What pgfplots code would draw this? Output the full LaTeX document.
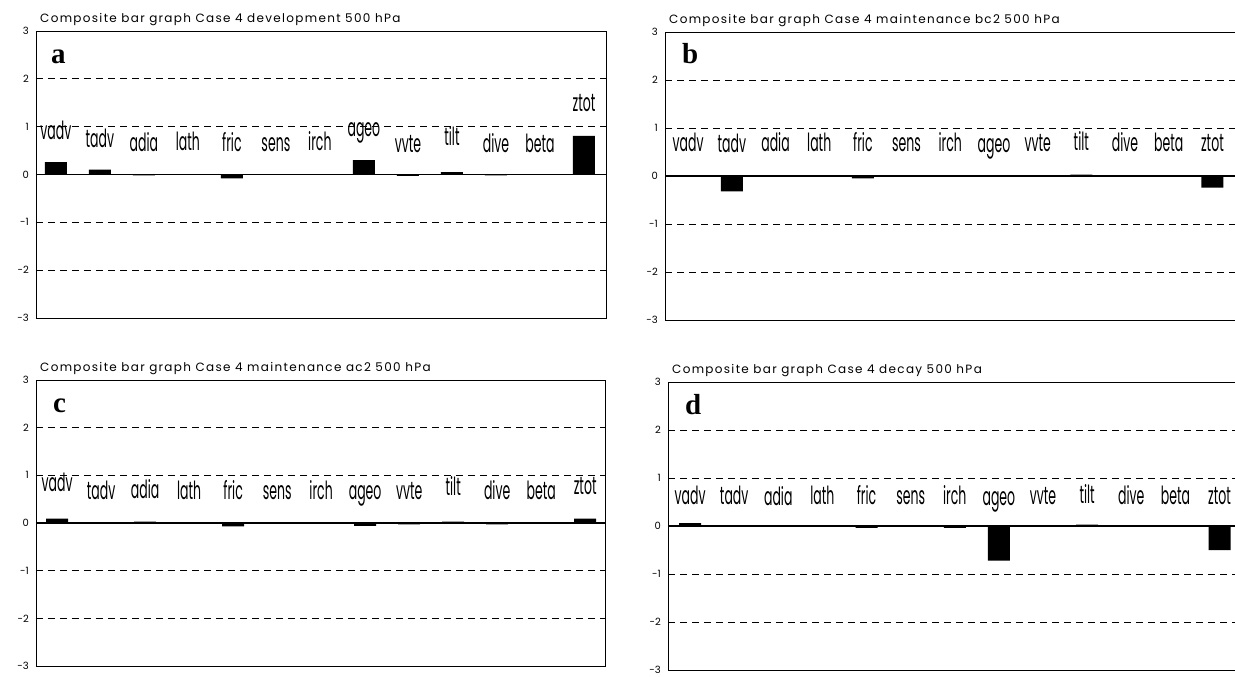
\documentclass[border=0pt]{standalone}
\usepackage{fontspec}
\usepackage{pgfplots}
\pgfplotsset{compat=1.18}
\setmainfont{Poppins}
\newfontfamily\condfont[FakeStretch=0.5]{Poppins}
\newfontfamily\condfontd[FakeStretch=0.55]{Poppins}
\newfontfamily\titlefont[LetterSpace=11]{Poppins}
\newfontfamily\serifb{Liberation Serif}

\pgfplotsset{
  panel/.style={
    scale only axis, anchor=north west,
    ybar, bar width=22pt, ymin=-3, ymax=3,
    axis line style={black, line width=0.8pt},
    xtick=\empty,
    ytick={-3,-2,-1,1,2,3}, yticklabels={-3,-2,-1,1,2,3},
    ymajorgrids,
    major grid style={black, line width=0.8pt, dash pattern=on 7pt off 5pt},
    extra y ticks={0}, extra y tick labels={0},
    extra y tick style={grid=major, major grid style={solid, black, line width=1.1pt}},
    major tick length=0pt,
    yticklabel style={font=\fontsize{10}{10}\selectfont, inner sep=0pt, xshift=-7pt},
    clip=false,
  },
}
\tikzset{lab/.style={anchor=base, inner sep=0pt, font=\fontsize{25}{25}\selectfont\condfont}}
\newcommand\clab[3]{\node[lab] at (axis cs:#1,#2) {#3};}
\newcommand\ttl[1]{\node[anchor=base west, inner sep=0pt, font=\fontsize{12}{14}\selectfont\titlefont] at (rel axis cs:0,1) [xshift=4pt, yshift=8.5pt] {#1};}
\newcommand\plet[2]{\node[anchor=base west, inner sep=0pt, font=\fontsize{29}{29}\selectfont\serifb\bfseries] at (rel axis cs:0,1) [xshift=#2, yshift=-32pt] {#1};}

\begin{document}
\begin{tikzpicture}
\useasboundingbox (0pt,0pt) rectangle (1235pt,-677pt);
\clip (0pt,0pt) rectangle (1235pt,-677pt);

% ---------- a ----------
\begin{axis}[panel, at={(36pt,-31pt)}, width=570pt, height=287pt, xmin=-0.45, xmax=12.5]
\addplot[fill=black, draw=none] coordinates {(0,0.26) (1,0.10) (2,-0.02) (3,0.01) (4,-0.08) (5,0.01) (6,0.01) (7,0.30) (8,-0.03) (9,0.05) (10,-0.02) (11,0.01) (12,0.81)};
\ttl{Composite bar graph Case 4 development 500 hPa}
\plet{a}{15pt}
\clab{0}{0.74}{vadv}\clab{1}{0.56}{tadv}\clab{2}{0.48}{adia}\clab{3}{0.50}{lath}
\clab{4}{0.49}{fric}\clab{5}{0.49}{sens}\clab{6}{0.50}{irch}\clab{7}{0.80}{ageo}
\clab{8}{0.47}{vvte}\clab{9}{0.60}{tilt}\clab{10}{0.47}{dive}\clab{11}{0.47}{beta}
\clab{12}{1.32}{ztot}
\end{axis}

% ---------- b ----------
\begin{axis}[panel, at={(665pt,-32pt)}, width=578pt, height=288pt, xmin=-0.53, xmax=12.7]
\addplot[fill=black, draw=none] coordinates {(0,0.01) (1,-0.32) (2,0.01) (3,0.005) (4,-0.05) (5,0.01) (6,0.01) (7,0.01) (8,-0.02) (9,0.03) (10,-0.02) (11,0.01) (12,-0.24)};
\ttl{Composite bar graph Case 4 maintenance bc2 500 hPa}
\plet{b}{17pt}
\clab{0}{0.50}{vadv}\clab{1}{0.49}{tadv}\clab{2}{0.50}{adia}\clab{3}{0.52}{lath}
\clab{4}{0.50}{fric}\clab{5}{0.50}{sens}\clab{6}{0.50}{irch}\clab{7}{0.49}{ageo}
\clab{8}{0.52}{vvte}\clab{9}{0.54}{tilt}\clab{10}{0.50}{dive}\clab{11}{0.50}{beta}
\clab{12}{0.52}{ztot}
\end{axis}

% ---------- c ----------
\begin{axis}[panel, at={(36pt,-380pt)}, width=569pt, height=286pt, xmin=-0.48, xmax=12.45]
\addplot[fill=black, draw=none] coordinates {(0,0.09) (1,0.01) (2,0.03) (3,0.01) (4,-0.07) (5,0.01) (6,-0.02) (7,-0.06) (8,-0.03) (9,0.03) (10,-0.03) (11,0.01) (12,0.09)};
\ttl{Composite bar graph Case 4 maintenance ac2 500 hPa}
\plet{c}{17pt}
\clab{0}{0.66}{vadv}\clab{1}{0.50}{tadv}\clab{2}{0.52}{adia}\clab{3}{0.50}{lath}
\clab{4}{0.50}{fric}\clab{5}{0.50}{sens}\clab{6}{0.50}{irch}\clab{7}{0.50}{ageo}
\clab{8}{0.50}{vvte}\clab{9}{0.57}{tilt}\clab{10}{0.50}{dive}\clab{11}{0.50}{beta}
\clab{12}{0.60}{ztot}
\end{axis}

% ---------- d ----------
\begin{axis}[panel, at={(668pt,-382pt)}, width=578pt, height=288pt, xmin=-0.5, xmax=12.6,
  lab/.style={anchor=base, inner sep=0pt, font=\fontsize{25}{25}\selectfont\condfontd}]
\addplot[fill=black, draw=none] coordinates {(0,0.06) (1,0.02) (2,-0.01) (3,0.005) (4,-0.04) (5,0.01) (6,-0.04) (7,-0.72) (8,0.02) (9,0.03) (10,0.02) (11,0.01) (12,-0.50)};
\ttl{Composite bar graph Case 4 decay 500 hPa}
\plet{d}{17pt}
\clab{0}{0.44}{vadv}\clab{1}{0.44}{tadv}\clab{2}{0.42}{adia}\clab{3}{0.44}{lath}
\clab{4}{0.44}{fric}\clab{5}{0.44}{sens}\clab{6}{0.44}{irch}\clab{7}{0.42}{ageo}
\clab{8}{0.44}{vvte}\clab{9}{0.47}{tilt}\clab{10}{0.44}{dive}\clab{11}{0.44}{beta}
\clab{12}{0.44}{ztot}
\end{axis}
\end{tikzpicture}
\end{document}
